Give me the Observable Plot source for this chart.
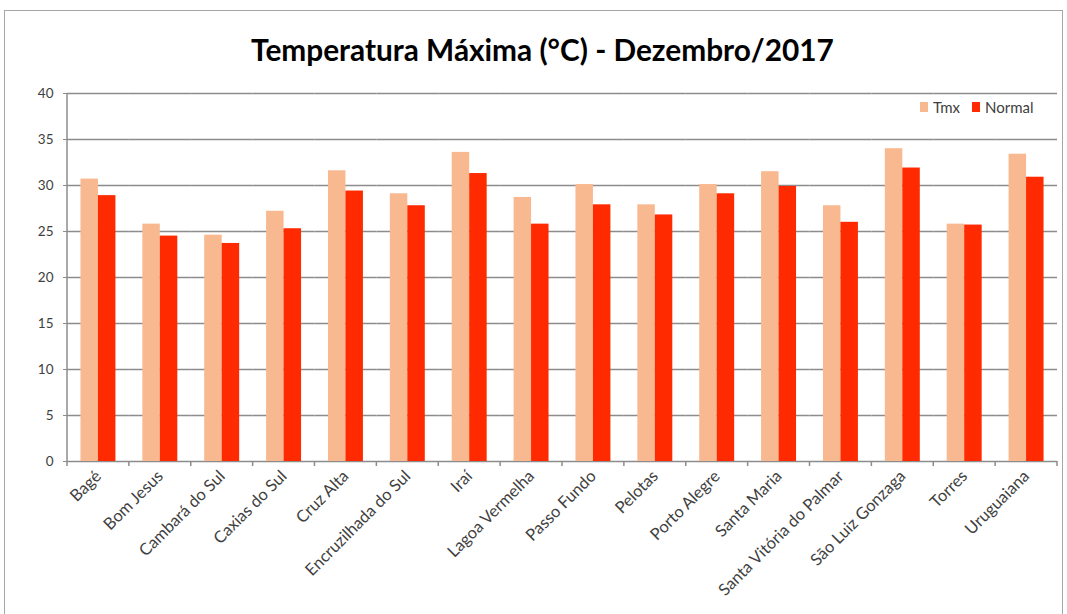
<!DOCTYPE html>
<html><head><meta charset="utf-8">
<script src="https://cdn.jsdelivr.net/npm/d3@7"></script>
<script src="https://cdn.jsdelivr.net/npm/@observablehq/plot@0.6"></script>
<style>
body{margin:0;background:#fff;font-family:Lato,"Open Sans",sans-serif;}
#wrap{position:relative;width:1067px;height:614px;overflow:hidden;background:#fff;}
#frame{position:absolute;left:4px;top:10px;width:1057px;height:640px;border:1px solid #a6a6a6;}
#title{position:absolute;left:9px;top:32px;width:1067px;text-align:center;font-weight:bold;font-size:29.8px;color:#000;line-height:36px;}
#chart{position:absolute;left:0;top:81px;}
#legend{position:absolute;left:920px;top:98px;font-size:15px;color:#404040;display:flex;align-items:center;gap:0;}
#legend span.sw{display:inline-block;width:8px;height:10px;margin-right:5px;}
#legend span.lb{margin-right:12px;}
</style></head>
<body>
<div id="wrap">
  <div id="frame"></div>
  <div id="title">Temperatura Máxima (°C) - Dezembro/2017</div>
  <div id="chart"></div>
  <div id="legend"></div>
</div>
<script>
const cities = ["Bagé","Bom Jesus","Cambará do Sul","Caxias do Sul","Cruz Alta","Encruzilhada do Sul","Iraí","Lagoa Vermelha","Passo Fundo","Pelotas","Porto Alegre","Santa Maria","Santa Vitória do Palmar","São Luiz Gonzaga","Torres","Uruguaiana"];
const tmx    = [30.7, 25.8, 24.6, 27.2, 31.6, 29.1, 33.6, 28.7, 30.1, 27.9, 30.1, 31.5, 27.8, 34.0, 25.8, 33.4];
const normal = [28.9, 24.5, 23.7, 25.3, 29.4, 27.8, 31.3, 25.8, 27.9, 26.8, 29.1, 29.9, 26.0, 31.9, 25.7, 30.9];
const series = ["Tmx","Normal"];
const colors = ["#F9B990","#FF2A00"];
const yTicks = [0,5,10,15,20,25,30,35,40];

const data = [];
cities.forEach((c,i)=>{
  data.push({city:c, series:"Tmx", value:tmx[i]});
  data.push({city:c, series:"Normal", value:normal[i]});
});

const plot = Plot.plot({
  width:1067, height:530,
  marginTop:12, marginBottom:150, marginLeft:67, marginRight:10,
  style:{fontFamily:"Lato, 'Open Sans', sans-serif", background:"transparent"},
  fx:{domain:cities, padding:0, label:null, round:false},
  x:{domain:series, paddingInner:0, paddingOuter:0.77, axis:null, round:false},
  y:{domain:[0,40], label:null},
  color:{domain:series, range:colors},
  marks:[
    Plot.gridY(yTicks,{stroke:"#8c8c8c", strokeOpacity:1, strokeWidth:1.5}),
    Plot.barY(data,{fx:"city", x:"series", y:"value", fill:"series"}),
    Plot.axisY(yTicks,{tickSize:4, tickPadding:10, fontSize:13.5, stroke:"#8c8c8c", fill:"#404040", label:null}),
    Plot.axisFx({anchor:"bottom", tickSize:0, tickRotate:-45, tickPadding:12, fontSize:16.5, fill:"#404040", label:null})
  ]
});
document.getElementById("chart").appendChild(plot);

// Excel-style axis line and between-category ticks, from the plot's own scales
const fxS = plot.scale("fx"), yS = plot.scale("y");
const y0 = yS.apply(0), yTop = yS.apply(40);
const g = d3.select(plot).append("g").attr("stroke","#8c8c8c").attr("stroke-width",1.5);
const edges = cities.map(c=>fxS.apply(c));
edges.push(fxS.apply(cities[cities.length-1]) + fxS.bandwidth);
edges.forEach(x=>g.append("line").attr("x1",x).attr("x2",x).attr("y1",y0).attr("y2",y0+5));
g.append("line").attr("x1",edges[0]).attr("x2",edges[0]).attr("y1",yTop).attr("y2",y0);

const leg = d3.select("#legend");
series.forEach((s,i)=>{
  leg.append("span").attr("class","sw").style("background",colors[i]);
  leg.append("span").attr("class","lb").text(s);
});
</script>
</body></html>
